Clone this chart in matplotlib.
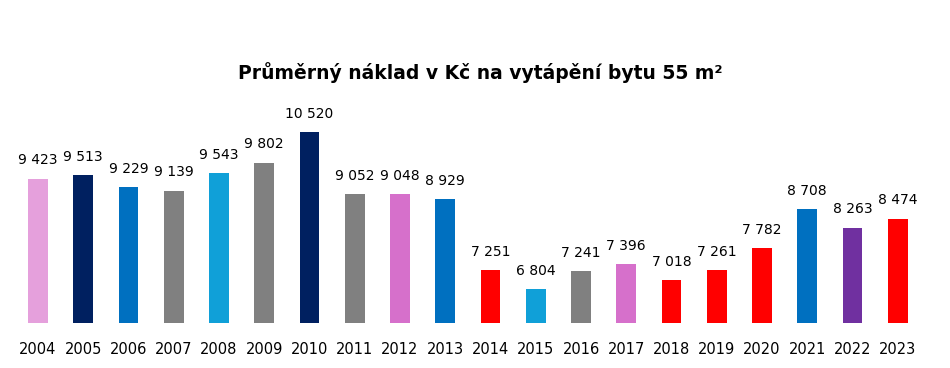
import numpy as np
import matplotlib as mpl
mpl.use('Agg')
from matplotlib import pyplot as plt

# Average heating cost per year (CZK)
years = ['2004', '2005', '2006', '2007', '2008', '2009', '2010', '2011', '2012', '2013',
         '2014', '2015', '2016', '2017', '2018', '2019', '2020', '2021', '2022', '2023']
costs = [9423, 9513, 9229, 9139, 9543, 9802, 10520, 9052, 9048, 8929,
         7251, 6804, 7241, 7396, 7018, 7261, 7782, 8708, 8263, 8474]
labels = ['9 423', '9 513', '9 229', '9 139', '9 543', '9 802', '10 520', '9 052', '9 048', '8 929',
          '7 251', '6 804', '7 241', '7 396', '7 018', '7 261', '7 782', '8 708', '8 263', '8 474']

# bar colours, one per year
pink = '#E5A0DC'
navy = '#002060'
blue = '#0070C0'
gray = '#808080'
sky = '#10A0D8'
orchid = '#D670CB'
red = '#FF0000'
purple = '#7030A0'
colors = [pink, navy, blue, gray, sky, gray, navy, gray, orchid, blue,
          red, sky, gray, orchid, red, red, red, blue, purple, red]

fig = plt.figure(figsize=(9.5, 3.68), dpi=100)
ax = fig.add_axes([15.4/950, 1 - 323/368, 905/950, 211/368])

x = np.arange(len(years))
bars = ax.bar(x, costs, width=0.44, color=colors)

for xi, val, lab in zip(x, costs, labels):
    ax.annotate(lab, (xi, val), xytext=(0, 8), textcoords='offset points',
                ha='center', va='bottom', fontsize=10, color='#000000')

ax.set_xlim(-0.5, len(years) - 0.5)
ax.set_ylim(6000, 11000)
ax.set_xticks(x)
ax.set_xticklabels(years, fontsize=10.5)
ax.tick_params(axis='x', length=0, pad=14)
ax.set_yticks([])
for s in ax.spines.values():
    s.set_visible(False)

fig.text(480/950, 1 - 73/368, 'Průměrný náklad v Kč na vytápění bytu 55 m²',
         ha='center', va='center', fontsize=13.5, fontweight='bold')

plt.savefig('out.png', dpi=100, facecolor='w')
